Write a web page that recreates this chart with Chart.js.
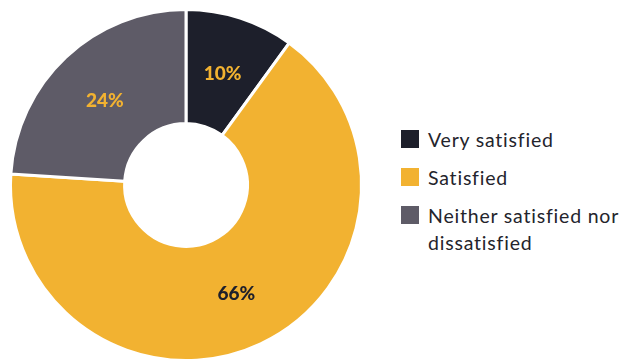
<!DOCTYPE html>
<html>
<head>
<meta charset="utf-8">
<script src="https://cdn.jsdelivr.net/npm/chart.js@4.4.1/dist/chart.umd.min.js"></script>
<style>
  html, body { margin: 0; padding: 0; background: #fff; overflow: hidden; }
  body { width: 620px; height: 360px; position: relative; font-family: Lato, "Open Sans", sans-serif; }
  #wrap { position: absolute; left: 0; top: -1px; width: 372px; height: 372px; }
  #legend { position: absolute; left: 401px; top: 126px; margin: 0; padding: 0; list-style: none; }
  #legend li { display: flex; align-items: flex-start; margin-bottom: 11px; font-size: 19.5px; letter-spacing: 0.8px; line-height: 27px; color: #24242c; white-space: nowrap; }
  #legend .box { width: 18px; height: 18px; margin-top: 4px; margin-right: 9px; flex: none; }
</style>
</head>
<body>
<div id="wrap"><canvas id="donut"></canvas></div>
<ul id="legend"></ul>
<script>
const labels = ["Very satisfied", "Satisfied", "Neither satisfied nor dissatisfied"];
const legendLines = [["Very satisfied"], ["Satisfied"], ["Neither satisfied nor", "dissatisfied"]];
const values = [10, 66, 24];
const colors = ["#1d1f2b", "#f2b231", "#5e5b67"];
const labelColors = ["#f2b231", "#1d1f2b", "#f2b231"];

const legend = document.getElementById("legend");
labels.forEach((name, i) => {
  const li = document.createElement("li");
  const box = document.createElement("span");
  box.className = "box";
  box.style.background = colors[i];
  const txt = document.createElement("span");
  txt.innerHTML = legendLines[i].join("<br>");
  li.appendChild(box);
  li.appendChild(txt);
  legend.appendChild(li);
});

// percentage text in the middle of each slice
const sliceLabels = {
  id: "sliceLabels",
  afterDatasetsDraw(chart) {
    const ctx = chart.ctx;
    const meta = chart.getDatasetMeta(0);
    ctx.save();
    ctx.font = "900 19px Lato, 'Open Sans', sans-serif";
    ctx.textAlign = "center";
    ctx.textBaseline = "middle";
    meta.data.forEach((arc, i) => {
      const p = arc.tooltipPosition();
      ctx.fillStyle = labelColors[i];
      ctx.fillText(values[i] + "%", p.x, p.y + 2);
    });
    ctx.restore();
  },
};

new Chart(document.getElementById("donut"), {
  type: "doughnut",
  data: {
    labels: labels,
    datasets: [
      {
        data: values,
        backgroundColor: colors,
        borderColor: "#ffffff",
        borderWidth: 3,
      },
    ],
  },
  options: {
    responsive: true,
    maintainAspectRatio: false,
    animation: false,
    cutout: "35%",
    layout: { padding: 9 },
    plugins: {
      legend: { display: false },
      tooltip: { enabled: false },
    },
  },
  plugins: [sliceLabels],
});
</script>
</body>
</html>
